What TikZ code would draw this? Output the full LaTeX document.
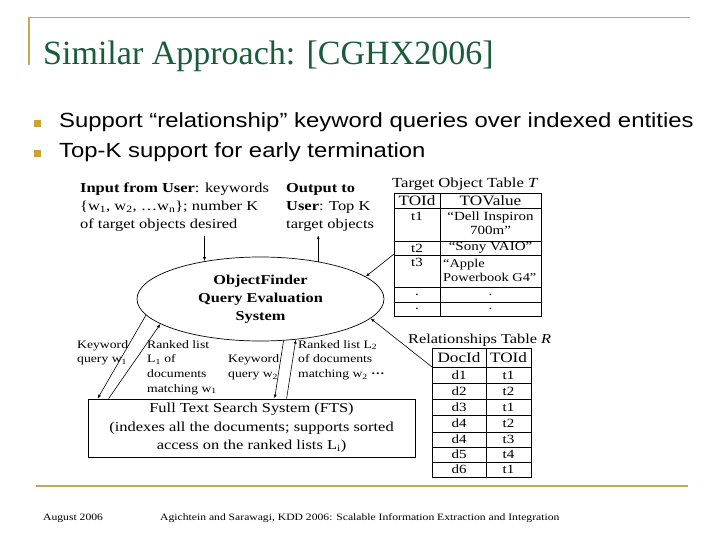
\documentclass[tikz,border=0pt]{standalone}
\usepackage{fontspec}
\setmainfont{Liberation Serif}
\newfontfamily\dfont[FakeStretch=1.2]{Liberation Serif}
\newfontfamily\bfont[FakeStretch=1.165]{Liberation Sans}
\usetikzlibrary{shapes.geometric,arrows.meta,calc}
\definecolor{gold}{RGB}{196,170,80}
\definecolor{bullgold}{RGB}{204,163,51}
\definecolor{titlegreen}{RGB}{24,92,58}
\begin{document}
\begin{tikzpicture}[x=1pt,y=-1pt,
  lbl/.style={inner sep=0pt, align=left, font=\dfont\fontsize{11.4}{14.7}\selectfont},
  cell/.style={inner sep=0pt, font=\dfont\fontsize{12.5}{14}\selectfont},
  hcell/.style={inner sep=0pt, font=\dfont\fontsize{14.3}{16}\selectfont},
  blk/.style={inner sep=0pt, align=left, font=\dfont\fontsize{13.7}{18}\selectfont},
  arr/.style={-{Latex[length=4pt,width=3pt]}, line width=0.6pt},
  grid/.style={line width=0.6pt},
  hgrid/.style={line width=1pt},
  tframe/.style={draw, line width=1.3pt, inner sep=0pt, anchor=north west},
]
\useasboundingbox[fill=white] (0,0) rectangle (720,540);

% slide header frame
\draw[gold, line width=1.8pt] (29,65) -- (29,17.5) -- (690,17.5);
\node[anchor=base west, inner sep=0pt, text=titlegreen, font=\fontsize{34}{40}\selectfont] (title) at (43,65) {Similar Approach: [CGHX2006]};

% bullets
\node[fill=bullgold, minimum size=6.5pt, inner sep=0pt] (b1) at (37.5,123.5) {};
\node[fill=bullgold, minimum size=6.5pt, inner sep=0pt] (b2) at (37.5,153.5) {};
\node[anchor=base west, inner sep=0pt, font=\bfont\fontsize{20.5}{24}\selectfont] (t1) at (59,127.7) {Support “relationship” keyword queries over indexed entities};
\node[anchor=base west, inner sep=0pt, font=\bfont\fontsize{20.5}{24}\selectfont] (t2) at (59,157.7) {Top-K support for early termination};

% input / output
\node[blk, anchor=west] (inp) at (80,207) {\textbf{Input from User}: keywords\\ \{w\textsubscript{1}, w\textsubscript{2}, \ldots w\textsubscript{n}\}; number K\\ of target objects desired};
\node[blk, anchor=west] (out) at (286,207) {\textbf{Output to}\\ \textbf{User}: Top K\\ target objects};

% ellipse
\node[ellipse, draw, line width=0.7pt, minimum width=247pt, minimum height=84pt, inner sep=0pt, align=center,
      font=\dfont\bfseries\fontsize{13.6}{18}\selectfont] (ell) at (260.5,299) {ObjectFinder\\Query Evaluation\\System};

\draw[arr] ([yshift=-4pt]ell.146.6 |- inp.south) -- (ell.146.6);
\draw[arr] (ell.33.4) -- ([yshift=-4pt]ell.33.4 |- out.south);

% Target object table
\node[anchor=base west, inner sep=0pt, font=\dfont\fontsize{13.9}{16}\selectfont] (ttitle) at (392,187.5) {Target Object Table \textit{T}};
\node[tframe, minimum width=147pt, minimum height=123pt] (ttab) at (394,193) {};
\draw[grid] (440,193) -- (440,316);
\draw[hgrid] (394,209) -- (541,209);
\draw[hgrid] (394,241) -- (541,241);
\draw[grid] (394,255) -- (541,255);
\draw[hgrid] (394,287) -- (541,287);
\draw[grid] (394,302) -- (541,302);
\node[hcell] (th1) at (417,201) {TOId};
\node[hcell] (th2) at (490.5,201) {TOValue};
\node[cell] (tc1) at (417,216) {t1};
\node[cell, align=center] (tv1) at (490.5,223) {“Dell Inspiron\\700m”};
\node[cell] (tc2) at (417,248) {t2};
\node[cell] (tv2) at (490.5,248) {“Sony VAIO”};
\node[cell] (tc3) at (417,262) {t3};
\node[cell, align=left, anchor=west, font=\dfont\fontsize{12}{14}\selectfont] (tv3) at (443,270) {“Apple\\Powerbook G4”};
\node[cell] (td1) at (417,295) {.};
\node[cell] (td2) at (490.5,295) {.};
\node[cell] (td3) at (417,309) {.};
\node[cell] (td4) at (490.5,309) {.};

% Relationships table
\node[anchor=base west, inner sep=0pt, font=\dfont\fontsize{13.6}{16}\selectfont] (rtitle) at (408,343) {Relationships Table \textit{R}};
\node[tframe, minimum width=99pt, minimum height=129pt] (rtab) at (432,348) {};
\draw[grid] (486,348) -- (486,477);
\draw[hgrid] (432,367) -- (531,367);
\foreach \yy in {383,399,415,432,447,462} { \draw[grid] (432,\yy) -- (531,\yy); }
\node[hcell] (rh1) at (459,357.5) {DocId};
\node[hcell] (rh2) at (508.5,357.5) {TOId};
\foreach \dd/\tt/\yy [count=\i] in {d1/t1/375, d2/t2/391, d3/t1/407, d4/t2/423.5, d4/t3/439.5, d5/t4/454.5, d6/t1/469.5} {
  \node[cell] (rd\i) at (459,\yy) {\dd};
  \node[cell] (rt\i) at (508.5,\yy) {\tt};
}

% table connectors
\draw[arr] ($(ttab.north west)+(0,61)$) -- (ell.12.5);
\draw[arr] ($(rtab.north west)+(0,19)$) -- (ell.-10.9);

% FTS box
\node[draw, line width=0.8pt, minimum width=327pt, minimum height=58pt, inner sep=0pt, align=center,
      font=\dfont\fontsize{13.7}{18.3}\selectfont] (fts) at (251.5,428) {Full Text Search System (FTS)\\(indexes all the documents; supports sorted\\access on the ranked lists L\textsubscript{i})};

% labels
\node[lbl, anchor=west] (kw1) at (77,352.7) {Keyword\\query w\textsubscript{1}};
\node[lbl, anchor=west] (rl1) at (147,367.5) {Ranked list\\L\textsubscript{1} of\\documents\\matching w\textsubscript{1}};
\node[lbl, anchor=west] (kw2) at (228,367.5) {Keyword\\query w\textsubscript{2}};
\node[lbl, anchor=west] (rl2) at (298,360) {Ranked list L\textsubscript{2}\\of documents\\matching w\textsubscript{2} \textbf{···}};

% FTS connectors
\draw[arr] (ell.188) -- ($(fts.north west)+(10,0)$);
\draw[arr] ($(fts.north west)+(21,0)$) -- (ell.194);
\draw[arr] (ell.-61.4) -- ($(fts.north west)+(187,0)$);
\draw[arr] ($(fts.north west)+(199,0)$) -- (ell.-49.4);

% footer
\draw[gold, line width=2pt] (36,486) -- (688,486);
\node[anchor=base west, inner sep=0pt, font=\dfont\fontsize{9.7}{12}\selectfont] (f1) at (43,520) {August 2006};
\node[anchor=base west, inner sep=0pt, font=\dfont\fontsize{9.7}{12}\selectfont] (f2) at (160,520) {Agichtein and Sarawagi, KDD 2006: Scalable Information Extraction and Integration};
\end{tikzpicture}
\end{document}
